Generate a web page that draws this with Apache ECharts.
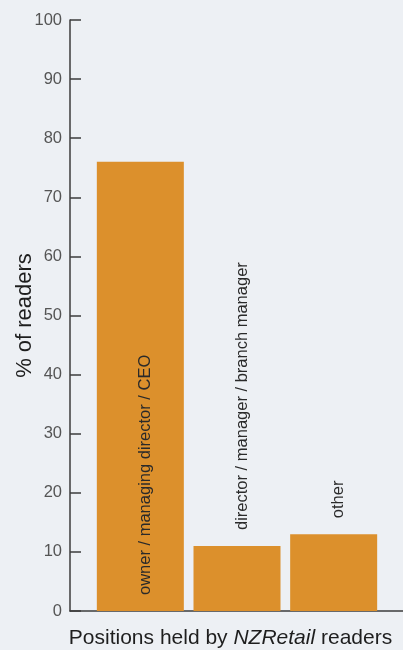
<!doctype html>
<html>
    <head>
        <meta charset="utf-8">
        <title>NZRetail readers</title>
        <style>
            html, body { margin: 0; padding: 0; background: #edf0f4; }
            #main { width: 403px; height: 650px; }
        </style>
    </head>
    <body>
        <div id="main"></div>
        <script src="https://cdn.jsdelivr.net/npm/echarts@6/dist/echarts.min.js"></script>
        <script>
            var positions = ['owner / managing director / CEO', 'director / manager / branch manager', 'other'];
            var readers = [76, 11, 13];
            var yTicks = [0, 10, 20, 30, 40, 50, 60, 70, 80, 90, 100];

            var chart = echarts.init(document.getElementById('main'), null, {
                devicePixelRatio: 1
            });

            var labelText = {
                fontFamily: 'Liberation Sans',
                fontSize: 16.5,
                color: '#2a2a2a'
            };

            var data = readers.map(function (v, i) {
                return {
                    value: v,
                    // first bar holds its label, the short ones carry it on top
                    label: i === 0 ? {
                        position: 'insideBottom',
                        distance: 16
                    } : {
                        position: 'top',
                        distance: 16
                    }
                };
            });

            chart.setOption({
                backgroundColor: '#edf0f4',
                animation: false,
                grid: [
                    // bars
                    { left: 92, right: 21, top: 20, bottom: 39, outerBoundsMode: 'none' },
                    // axes drawn full width
                    { left: 70, right: 0, top: 20, bottom: 39, outerBoundsMode: 'none' }
                ],
                xAxis: [{
                    gridIndex: 0,
                    type: 'category',
                    data: positions,
                    show: false
                }, {
                    gridIndex: 1,
                    type: 'value',
                    min: 0,
                    max: 1,
                    axisLine: { show: true, lineStyle: { color: '#3c3c3c', width: 1.5 } },
                    axisTick: { show: false },
                    axisLabel: { show: false },
                    splitLine: { show: false },
                    name: '{a|Positions held by }{b|NZRetail}{a| readers}',
                    nameLocation: 'middle',
                    nameGap: 17,
                    nameMoveOverlap: false,
                    nameTextStyle: {
                        padding: [0, 12, 0, 0],
                        rich: {
                            a: { fontFamily: 'Liberation Sans', fontSize: 21, color: '#1e1e1e' },
                            b: { fontFamily: 'Liberation Sans', fontSize: 21, fontStyle: 'italic', color: '#1e1e1e' }
                        }
                    }
                }],
                yAxis: [{
                    gridIndex: 0,
                    type: 'value',
                    min: 0,
                    max: 100,
                    show: false
                }, {
                    gridIndex: 1,
                    type: 'value',
                    min: yTicks[0],
                    max: yTicks[yTicks.length - 1],
                    interval: 10,
                    axisLine: { show: true, lineStyle: { color: '#3c3c3c', width: 1.5 } },
                    axisTick: { show: true, inside: true, length: 11, lineStyle: { color: '#3c3c3c', width: 1.5 } },
                    axisLabel: {
                        fontFamily: 'Liberation Sans',
                        fontSize: 16.5,
                        color: '#555',
                        margin: 8
                    },
                    splitLine: { show: false },
                    name: '% of readers',
                    nameLocation: 'middle',
                    nameGap: 34,
                    nameMoveOverlap: false,
                    nameTextStyle: {
                        fontFamily: 'Liberation Sans',
                        fontSize: 22,
                        color: '#1e1e1e'
                    }
                }],
                series: [{
                    type: 'bar',
                    xAxisIndex: 0,
                    yAxisIndex: 0,
                    data: data,
                    barWidth: 87,
                    itemStyle: { color: '#dc902c' },
                    label: Object.assign({
                        show: true,
                        rotate: 90,
                        align: 'left',
                        verticalAlign: 'middle',
                        offset: [0, 5],
                        formatter: function (p) { return positions[p.dataIndex]; }
                    }, labelText)
                }]
            });

            window.onresize = chart.resize;
        </script>
    </body>
</html>
